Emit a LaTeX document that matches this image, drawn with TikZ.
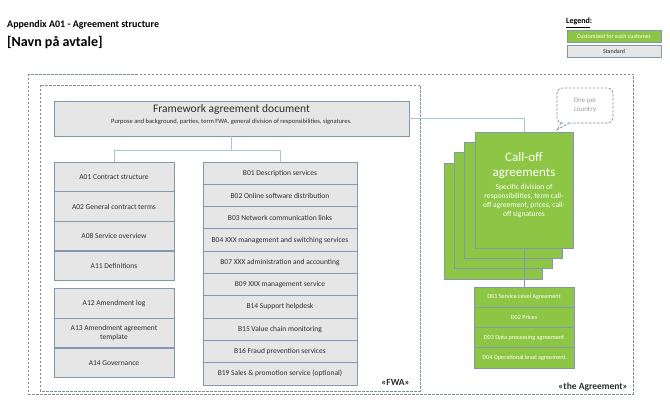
\documentclass[tikz,border=0pt]{standalone}
\usepackage{fontspec}
\setmainfont{Carlito}
\definecolor{boxgray}{RGB}{230,230,230}
\definecolor{boxborder}{RGB}{132,151,176}
\definecolor{grn}{RGB}{141,198,68}
\definecolor{conn}{RGB}{170,196,222}
\definecolor{dash}{RGB}{128,143,166}
\definecolor{txt}{RGB}{45,45,45}
\begin{document}
\begin{tikzpicture}[x=1pt,y=-1pt,
  gbox/.style={draw=boxborder, fill=boxgray, line width=0.9pt, inner sep=1pt, align=center, text=txt},
  abox/.style={gbox, minimum width=120pt, minimum height=29.6pt, font=\fontsize{7.5}{9}\selectfont},
  bbox/.style={gbox, minimum width=154pt, minimum height=22.3pt, font=\fontsize{7.5}{9}\selectfont},
  dbox/.style={draw=boxborder, fill=grn, line width=0.9pt, inner sep=1pt, text=white, minimum width=100pt, minimum height=20.3pt, font=\fontsize{6.2}{7.5}\selectfont},
  sheet/.style={draw=boxborder, fill=grn, line width=0.7pt, minimum width=98pt, minimum height=116pt, inner sep=0pt},
  frame/.style={draw=dash, dashed, dash pattern=on 2.5pt off 1.5pt, line width=0.8pt},
  cline/.style={draw=conn, line width=1pt},
]
\useasboundingbox (0,0) rectangle (670,411);

% titles
\node[anchor=base west, inner sep=0pt, font=\bfseries\fontsize{10}{11}\selectfont] (t1) at (7,28) {Appendix A01 - Agreement structure};
\node[anchor=base west, inner sep=0pt, font=\bfseries\fontsize{14}{15}\selectfont] (t2) at (7,46.5) {[Navn på avtale]};

% legend
\node[anchor=base west, inner sep=0pt, font=\bfseries\fontsize{8}{9}\selectfont] (lg) at (566,24) {\underline{Legend}:};
\node[draw=boxborder, fill=grn, line width=0.9pt, text=white, minimum width=94pt, minimum height=12pt, inner sep=0pt, font=\fontsize{6}{7}\selectfont] (lgg) at (614,36) {Customized for each customer};
\node[draw=boxborder, fill=boxgray, line width=0.9pt, text=txt, minimum width=94pt, minimum height=12.5pt, inner sep=0pt, font=\fontsize{6}{7}\selectfont] (lgs) at (614,51.5) {Standard};

% frames
\draw[frame] (28,74) rectangle (633,394);
\draw[frame] (40,85) rectangle (420,391);
\node[anchor=base east, inner sep=0pt, font=\bfseries\fontsize{9.5}{11}\selectfont, text=txt] (fwa) at (410,386) {«FWA»};
\node[anchor=base east, inner sep=0pt, font=\bfseries\fontsize{9.5}{11}\selectfont, text=txt] (agr) at (628,390) {«the Agreement»};

% framework box
\node[gbox, minimum width=355pt, minimum height=35pt] (fw) at (231.5,118.5) {};
\node[inner sep=0pt, font=\fontsize{11.5}{13}\selectfont, text=txt] (fwt) at (231.5,110) {Framework agreement document};
\node[inner sep=0pt, font=\fontsize{6.5}{7.5}\selectfont, text=txt] (fws) at (231.5,121.5) {Purpose and background, parties, term FWA, general division of responsibilities, signatures.};

% A column
\node[abox] (a01) at (114,177) {A01 Contract structure};
\node[abox] (a02) at (114,206.5) {A02 General contract terms};
\node[abox] (a08) at (114,236) {A08 Service overview};
\node[abox] (a11) at (114,266) {A11 Definitions};
\node[abox] (a12) at (114,303.5) {A12 Amendment log};
\node[abox] (a13) at (114,333) {A13 Amendment agreement\\template};
\node[abox] (a14) at (114,363) {A14 Governance};

% B column
\node[bbox] (b01) at (280,173.15) {B01 Description services};
\node[bbox] (b02) at (280,195.45) {B02 Online software distribution};
\node[bbox] (b03) at (280,217.75) {B03 Network communication links};
\node[bbox] (b04) at (280,240.05) {B04 XXX management and switching services};
\node[bbox] (b07) at (280,262.35) {B07 XXX administration and accounting};
\node[bbox] (b09) at (280,284.65) {B09 XXX management service};
\node[bbox] (b14) at (280,306.95) {B14 Support helpdesk};
\node[bbox] (b15) at (280,329.25) {B15 Value chain monitoring};
\node[bbox] (b16) at (280,351.55) {B16 Fraud prevention services};
\node[bbox] (b19) at (280,373.85) {B19 Sales \& promotion service (optional)};

% connectors FWA
\draw[cline] (fw.south) -- ++(0,14) coordinate (fj) -| (a01.north);
\draw[cline] (fj) -| (b01.north);

% call-off stack
\node[sheet] (s4) at (493,221) {};
\node[sheet] (s3) at (503,210.5) {};
\node[sheet] (s2) at (513,200) {};
\draw[cline] (fw.east) -| (524,132) coordinate (ctop);
\node[sheet] (s1) at (524,190) {};
\node[inner sep=0pt, align=center, text=white, font=\fontsize{13}{15}\selectfont] (ct) at (524,166) {Call-off\\agreements};
\node[inner sep=0pt, align=center, text=white, font=\fontsize{7.6}{9.3}\selectfont] (cb) at (524,201) {Specific division of\\responsibilities, term call-\\off agreement, prices, call-\\off signatures};

% D boxes
\node[dbox] (d01) at (524,297.15) {D01 Service Level Agreement};
\node[dbox] (d02) at (524,317.45) {D02 Prices};
\node[dbox] (d03) at (524,337.75) {D03 Data processing agreement};
\node[dbox] (d04) at (524,358.05) {D04 Operational level agreement};
\draw[draw=boxborder, line width=0.6pt] (s1.south) -- (d01.north);

% callout
\draw[frame, rounded corners=5pt] (569,123) -- (613,123) -- (613,88) -- (557,88) -- (557,123) -- (561,123);
\draw[frame] (561,123) -- (557,130) -- (569,123);
\node[inner sep=0pt, align=center, text=gray!80, font=\fontsize{7}{9}\selectfont] (op) at (585,105.5) {One per\\country};
\end{tikzpicture}
\end{document}
